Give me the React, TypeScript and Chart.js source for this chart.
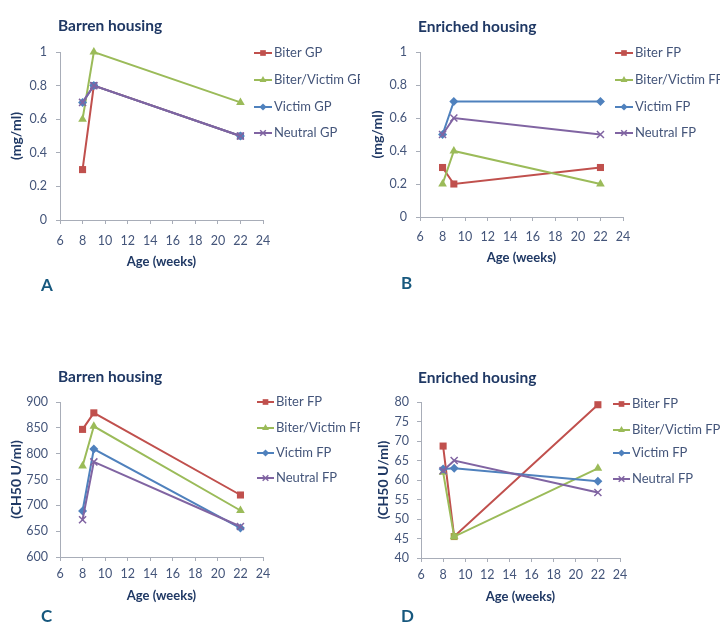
import React, { useEffect, useRef } from 'react';
import { Chart, registerables } from 'chart.js';

Chart.register(...registerables);

// ---------------- data ----------------
const WEEKS = [8, 9, 22];

const GP_LABELS = ['Biter GP', 'Biter/Victim GP', 'Victim GP', 'Neutral GP'];
const FP_LABELS = ['Biter FP', 'Biter/Victim FP', 'Victim FP', 'Neutral FP'];

const A_BITER = [0.3, 0.8, 0.5];
const A_BITER_VICTIM = [0.6, 1.0, 0.7];
const A_VICTIM = [0.7, 0.8, 0.5];
const A_NEUTRAL = [0.7, 0.8, 0.5];

const B_BITER = [0.3, 0.2, 0.3];
const B_BITER_VICTIM = [0.2, 0.4, 0.2];
const B_VICTIM = [0.5, 0.7, 0.7];
const B_NEUTRAL = [0.5, 0.6, 0.5];

const C_BITER = [847, 879, 720];
const C_BITER_VICTIM = [776, 853, 690];
const C_VICTIM = [689, 809, 656];
const C_NEUTRAL = [672, 784, 659];

const D_BITER = [68.7, 45.5, 79.3];
const D_BITER_VICTIM = [62.0, 45.5, 63.0];
const D_VICTIM = [62.8, 63.0, 59.7];
const D_NEUTRAL = [62.4, 65.0, 56.8];

const X_MIN = 6;
const X_MAX = 24;
const X_STEP = 2;

// ---------------- styles ----------------
const RED = '#c0504d';
const GREEN = '#9bbb59';
const BLUE = '#4f81bd';
const PURPLE = '#8064a2';
const COLORS = [RED, GREEN, BLUE, PURPLE];
const STYLES = ['rect', 'triangle', 'rectRot', 'crossRot'];
const RADII = [5, 5, 4.5, 5];

const TITLE_COLOR = '#1f3864';
const TEXT_COLOR = '#44557a';
const LETTER_COLOR = '#17587e';
const AXIS_COLOR = '#a8adb8';
const FONT = 'Lato';

const W = 360;
const H = 312;
const XAXIS_H = 60;

type Panel = {
  key: string;
  left: number;
  top: number;
  title: string;
  letter: string;
  yTitle: string;
  yMin: number;
  yMax: number;
  yStep: number;
  labels: string[];
  series: number[][];
  biterPointColors: string[];
  area: { left: number; right: number; top: number; bottom: number };
  titlePos: [number, number];
  letterPos: [number, number];
  legend: { x: number; ys: number[]; len: number };
  xTickPad: number;
  xTitleOffset: number;
  yTitleX: number;
  yTickPad: number;
};

const PANELS: Panel[] = [
  {
    key: 'A', left: 0, top: 0,
    title: 'Barren housing', letter: 'A', yTitle: '(mg/ml)',
    yMin: 0, yMax: 1, yStep: 0.2,
    labels: GP_LABELS,
    series: [A_BITER, A_BITER_VICTIM, A_VICTIM, A_NEUTRAL],
    biterPointColors: [RED, '#7d5f9f', '#7d5f9f'],
    area: { left: 60, right: 263, top: 52, bottom: 220 },
    titlePos: [58, 26], letterPos: [41, 286],
    legend: { x: 254, ys: [53, 80, 107, 133], len: 18 },
    xTickPad: 9, xTitleOffset: 42, yTitleX: 16, yTickPad: 9,
  },
  {
    key: 'B', left: 360, top: 0,
    title: 'Enriched housing', letter: 'B', yTitle: '(mg/ml)',
    yMin: 0, yMax: 1, yStep: 0.2,
    labels: FP_LABELS,
    series: [B_BITER, B_BITER_VICTIM, B_VICTIM, B_NEUTRAL],
    biterPointColors: [RED, RED, RED],
    area: { left: 60, right: 263, top: 52, bottom: 217 },
    titlePos: [58, 27], letterPos: [41, 284],
    legend: { x: 255, ys: [53, 80, 107, 133], len: 18 },
    xTickPad: 8, xTitleOffset: 41, yTitleX: 17, yTickPad: 9,
  },
  {
    key: 'C', left: 0, top: 312,
    title: 'Barren housing', letter: 'C', yTitle: '(CH50 U/ml)',
    yMin: 600, yMax: 900, yStep: 50,
    labels: FP_LABELS,
    series: [C_BITER, C_BITER_VICTIM, C_VICTIM, C_NEUTRAL],
    biterPointColors: [RED, RED, RED],
    area: { left: 60, right: 263, top: 90, bottom: 245 },
    titlePos: [58, 65], letterPos: [41, 305],
    legend: { x: 257, ys: [90, 116, 141, 166], len: 17 },
    xTickPad: 5, xTitleOffset: 39, yTitleX: 16, yTickPad: 8,
  },
  {
    key: 'D', left: 360, top: 312,
    title: 'Enriched housing', letter: 'D', yTitle: '(CH50 U/ml)',
    yMin: 40, yMax: 80, yStep: 5,
    labels: FP_LABELS,
    series: [D_BITER, D_BITER_VICTIM, D_VICTIM, D_NEUTRAL],
    biterPointColors: [RED, '#a6a24a', RED],
    area: { left: 61, right: 260, top: 90, bottom: 246 },
    titlePos: [58, 66], letterPos: [41, 305],
    legend: { x: 253, ys: [92, 118, 141, 167], len: 17 },
    xTickPad: 5, xTitleOffset: 39, yTitleX: 23, yTickPad: 8,
  },
];

function drawMarker(ctx: CanvasRenderingContext2D, style: string, x: number, y: number, r: number, color: string) {
  ctx.fillStyle = color;
  ctx.strokeStyle = color;
  ctx.lineWidth = 1.5;
  ctx.beginPath();
  if (style === 'rect') {
    const s = r * Math.SQRT1_2;
    ctx.rect(x - s, y - s, 2 * s, 2 * s);
    ctx.fill();
  } else if (style === 'triangle') {
    ctx.moveTo(x, y - r);
    ctx.lineTo(x + r * 0.866, y + r * 0.5);
    ctx.lineTo(x - r * 0.866, y + r * 0.5);
    ctx.closePath();
    ctx.fill();
  } else if (style === 'rectRot') {
    ctx.moveTo(x, y - r);
    ctx.lineTo(x + r, y);
    ctx.lineTo(x, y + r);
    ctx.lineTo(x - r, y);
    ctx.closePath();
    ctx.fill();
  } else {
    const s = r * Math.SQRT1_2;
    ctx.moveTo(x - s, y - s);
    ctx.lineTo(x + s, y + s);
    ctx.moveTo(x - s, y + s);
    ctx.lineTo(x + s, y - s);
    ctx.stroke();
  }
}

const decorPlugin = {
  id: 'decor',
  afterDraw(chart: any, _args: any, opts: any) {
    const p: Panel = opts.panel;
    if (!p) return;
    const ctx: CanvasRenderingContext2D = chart.ctx;
    ctx.save();
    ctx.textBaseline = 'middle';
    ctx.textAlign = 'left';
    // title
    ctx.fillStyle = TITLE_COLOR;
    ctx.font = `bold 15.5px ${FONT}`;
    ctx.fillText(p.title, p.titlePos[0], p.titlePos[1]);
    // letter
    ctx.fillStyle = LETTER_COLOR;
    ctx.font = `bold 17px ${FONT}`;
    ctx.fillText(p.letter, p.letterPos[0], p.letterPos[1]);
    // legend
    chart.data.datasets.forEach((ds: any, i: number) => {
      const y = p.legend.ys[i];
      const x0 = p.legend.x;
      ctx.strokeStyle = COLORS[i];
      ctx.lineWidth = 2;
      ctx.beginPath();
      ctx.moveTo(x0, y);
      ctx.lineTo(x0 + p.legend.len, y);
      ctx.stroke();
      drawMarker(ctx, STYLES[i], x0 + p.legend.len / 2, y, RADII[i] * 0.8, COLORS[i]);
      ctx.fillStyle = TEXT_COLOR;
      ctx.font = `13px ${FONT}`;
      ctx.fillText(ds.label, x0 + p.legend.len + 2, y);
    });
    ctx.restore();
  },
};

function PanelChart({ p }: { p: Panel }) {
  const ref = useRef<HTMLCanvasElement | null>(null);
  useEffect(() => {
    if (!ref.current) return;
    const datasets = p.series.map((vals, i) => ({
      label: p.labels[i],
      data: vals.map((v, j) => ({ x: WEEKS[j], y: v })),
      borderColor: COLORS[i],
      backgroundColor: COLORS[i],
      borderWidth: 2,
      pointStyle: STYLES[i],
      pointRadius: RADII[i],
      pointHoverRadius: RADII[i],
      pointBackgroundColor: i === 0 ? p.biterPointColors : COLORS[i],
      pointBorderColor: i === 0 ? p.biterPointColors : COLORS[i],
      pointBorderWidth: i === 3 ? 1.5 : 0,
      tension: 0,
      fill: false,
      clip: false as any,
      order: 4 - i,
    }));
    const tickFont = { family: FONT, size: 12.5 };
    const titleFont = { family: FONT, size: 13, weight: 'bold' as const };
    const chart = new Chart(ref.current, {
      type: 'line',
      data: { datasets },
      options: {
        animation: false,
        responsive: false,
        maintainAspectRatio: false,
        layout: {
          padding: {
            left: 0,
            top: p.area.top,
            right: W - p.area.right,
            bottom: H - p.area.bottom - XAXIS_H,
          },
        },
        plugins: {
          legend: { display: false },
          title: { display: false },
          tooltip: { enabled: false },
          decor: { panel: p },
        } as any,
        scales: {
          x: {
            type: 'linear',
            min: X_MIN,
            max: X_MAX,
            afterFit: (s: any) => { s.height = XAXIS_H; },
            ticks: {
              stepSize: X_STEP,
              color: TEXT_COLOR,
              font: tickFont,
              padding: p.xTickPad,
              maxRotation: 0,
              autoSkip: false,
            },
            grid: {
              drawOnChartArea: false,
              drawTicks: true,
              tickLength: 4,
              color: AXIS_COLOR,
            },
            border: { display: true, color: AXIS_COLOR, width: 1 },
            title: {
              display: true,
              text: 'Age (weeks)',
              color: TITLE_COLOR,
              font: titleFont,
              padding: { top: 0, bottom: XAXIS_H - 7.8 - p.xTitleOffset },
            },
          },
          y: {
            type: 'linear',
            min: p.yMin,
            max: p.yMax,
            afterFit: (s: any) => { s.width = p.area.left; },
            ticks: {
              stepSize: p.yStep,
              color: TEXT_COLOR,
              font: tickFont,
              padding: p.yTickPad,
              callback: (v: any) => String(Math.round(Number(v) * 100) / 100),
            },
            grid: {
              drawOnChartArea: false,
              drawTicks: true,
              tickLength: 4,
              color: AXIS_COLOR,
            },
            border: { display: true, color: AXIS_COLOR, width: 1 },
            title: {
              display: true,
              text: p.yTitle,
              color: TITLE_COLOR,
              font: { family: FONT, size: 14, weight: 'bold' as const },
              padding: { top: p.yTitleX - 8.4, bottom: 0 },
            },
          },
        },
      },
      plugins: [decorPlugin],
    });
    return () => chart.destroy();
  }, [p]);
  return (
    <canvas
      ref={ref}
      width={W}
      height={H}
      style={{ position: 'absolute', left: p.left, top: p.top, width: W, height: H }}
    />
  );
}

export default function App() {
  return (
    <div style={{ position: 'absolute', left: 0, top: 0, width: 720, height: 624, background: '#ffffff', overflow: 'hidden' }}>
      {PANELS.map((p) => (
        <PanelChart key={p.key} p={p} />
      ))}
    </div>
  );
}
